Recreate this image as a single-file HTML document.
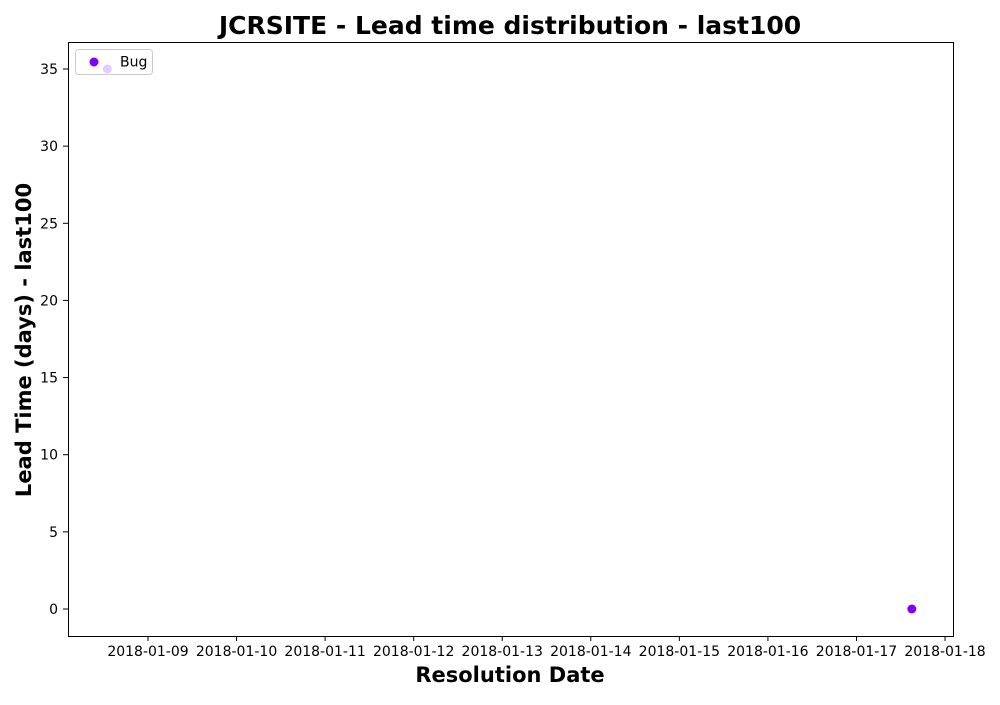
<!DOCTYPE html>
<html><head><meta charset="utf-8"><style>
body{margin:0;background:#fff;}
svg text{font-family:"DejaVu Sans","Liberation Sans",sans-serif;}
</style></head><body>
<svg width="1000" height="700" xmlns="http://www.w3.org/2000/svg">
<rect width="1000" height="700" fill="#fff"/>
<text x="510" y="34" text-anchor="middle" font-size="25" font-weight="bold">JCRSITE - Lead time distribution - last100</text>
<g id="plot"></g>
<rect x="68.5" y="42.5" width="885" height="594" fill="none" stroke="#000" stroke-width="1"/>
<text x="510" y="682" text-anchor="middle" font-size="21" font-weight="bold">Resolution Date</text>
<text transform="translate(31,340) rotate(-90)" text-anchor="middle" font-size="21" font-weight="bold">Lead Time (days) - last100</text>
<g>
<rect x="75.5" y="49.5" width="77" height="25" rx="3" fill="rgba(255,255,255,0.8)" stroke="#ccc"/>
<circle cx="94" cy="62" r="4.5" fill="#7f00ff"/>
<text x="120" y="66.5" font-size="14">Bug</text>
</g>
</svg>
<script>
const dates = ["2018-01-08T13:00","2018-01-17T15:00"];
const leadTimes = [35, 0];
const xTickLabels = ["2018-01-09","2018-01-10","2018-01-11","2018-01-12","2018-01-13","2018-01-14","2018-01-15","2018-01-16","2018-01-17","2018-01-18"];
const yTickValues = [0,5,10,15,20,25,30,35];

const NS="http://www.w3.org/2000/svg";
const g=document.getElementById('plot');
const day0=Date.parse("2018-01-09T00:00Z");
function xs(d){return 148+(Date.parse(d+(d.length>10?":00Z":"T00:00Z"))-day0)/86400000*88.56;}
function ys(v){return 609-v*(540/35);}
function mk(tag,attrs){const e=document.createElementNS(NS,tag);for(const k in attrs)e.setAttribute(k,attrs[k]);g.appendChild(e);return e;}

xTickLabels.forEach(l=>{
  const x=xs(l);
  const t=mk('line',{x1:x,x2:x,y1:636,y2:641,stroke:'#000'});
  
  
  const tx=mk('text',{x:x,y:656,'text-anchor':'middle','font-size':14});
  tx.textContent=l;
  
  
});
yTickValues.forEach(v=>{
  const y=ys(v);
  const t=mk('line',{x1:63,x2:68,y1:y,y2:y,stroke:'#000'});
  
  
  const tx=mk('text',{x:58,y:y+5,'text-anchor':'end','font-size':14});
  tx.textContent=v;
  
  
});
dates.forEach((d,i)=>{
  const c=mk('circle',{cx:xs(d),cy:ys(leadTimes[i]),r:4.5,fill:'#7f00ff'});
  
  
});
</script>
</body></html>
